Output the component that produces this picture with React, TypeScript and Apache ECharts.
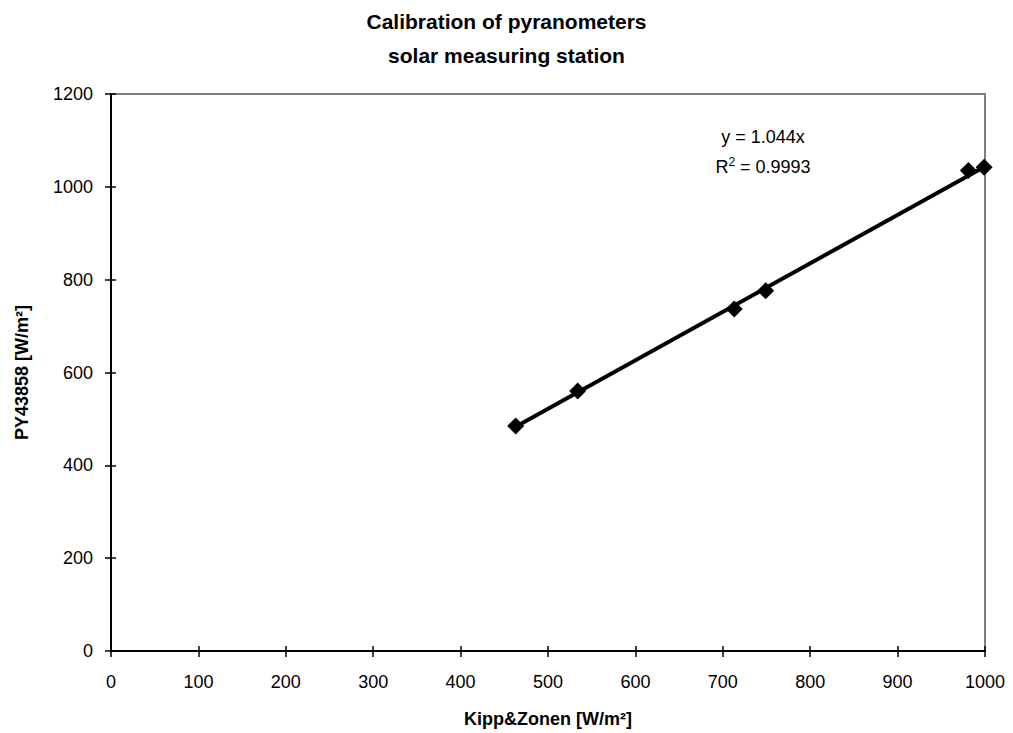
import React, { useEffect, useRef } from "react";
import * as echarts from "echarts";

// Paired readings: reference pyranometer (Kipp&Zonen) vs. PY43858
const kippZonen = [463, 534, 713, 749, 981, 999];
const py43858 = [485, 560, 737, 776, 1035, 1042];

// Linear fit through the origin
const slope = 1.044;
const rSquared = 0.9993;
const trendX = [463, 1000];

const xTicks = { min: 0, max: 1000, interval: 100 };
const yTicks = { min: 0, max: 1200, interval: 200 };

const FONT = "'Liberation Sans', Arial, sans-serif";

export default function App() {
  const ref = useRef<HTMLDivElement>(null);

  useEffect(() => {
    if (!ref.current) return;
    const chart = echarts.init(ref.current, undefined, { renderer: "svg" });

    const points = kippZonen.map((x, i) => [x, py43858[i]]);
    const trend = trendX.map((x) => [x, +(slope * x).toFixed(2)]);

    const plain = (v: number) => String(v);
    const labelStyle = { fontFamily: FONT, fontSize: 18, color: "#000", formatter: plain };
    const nameStyle = { fontFamily: FONT, fontWeight: "bold", fontSize: 18, color: "#000" };

    const axisBase = {
      type: "value" as const,
      splitLine: { show: false },
    };

    chart.setOption({
      animation: false,
      backgroundColor: "#ffffff",
      title: {
        text: "Calibration of pyranometers\nsolar measuring station",
        left: "center",
        top: -1,
        textStyle: {
          fontFamily: FONT,
          fontWeight: "bold",
          fontSize: 21,
          lineHeight: 34,
          color: "#000",
        },
      },
      grid: {
        left: 111,
        right: 28,
        top: 94,
        bottom: 82,
        show: true,
        borderColor: "#808080",
        borderWidth: 2,
      },
      xAxis: [
        {
          ...axisBase,
          ...xTicks,
          name: "Kipp&Zonen [W/m²]",
          nameLocation: "middle",
          nameGap: 59,
          nameTextStyle: nameStyle,
          axisLine: { show: true, lineStyle: { color: "#000", width: 2 } },
          axisTick: { show: true, inside: false, length: 6, lineStyle: { color: "#000", width: 1.5 } },
          axisLabel: { ...labelStyle, margin: 22 },
        },
        {
          ...axisBase,
          ...xTicks,
          position: "bottom",
          axisLine: { show: false },
          axisTick: { show: true, inside: true, length: 5, lineStyle: { color: "#000", width: 1.5 } },
          axisLabel: { show: false },
        },
      ],
      yAxis: [
        {
          ...axisBase,
          ...yTicks,
          name: "PY43858 [W/m²]",
          nameLocation: "middle",
          nameGap: 80,
          nameTextStyle: nameStyle,
          axisLine: { show: true, lineStyle: { color: "#000", width: 2 } },
          axisTick: { show: true, inside: false, length: 6, lineStyle: { color: "#000", width: 1.5 } },
          axisLabel: { ...labelStyle, margin: 18 },
        },
        {
          ...axisBase,
          ...yTicks,
          position: "left",
          axisLine: { show: false },
          axisTick: { show: true, inside: true, length: 5, lineStyle: { color: "#000", width: 1.5 } },
          axisLabel: { show: false },
        },
      ],
      series: [
        {
          type: "line",
          data: trend,
          showSymbol: false,
          symbol: "none",
          lineStyle: { color: "#000", width: 4 },
          z: 2,
        },
        {
          type: "scatter",
          data: points,
          symbol: "diamond",
          symbolSize: [17, 17],
          itemStyle: { color: "#000", opacity: 1 },
          z: 3,
        },
      ],
      graphic: [
        {
          type: "text",
          x: 763,
          y: 137,
          style: {
            text: `y = ${slope.toFixed(3)}x`,
            align: "center",
            verticalAlign: "middle",
            fill: "#000",
            font: `18px ${FONT}`,
          },
        },
        {
          type: "text",
          x: 763,
          y: 167,
          style: {
            text: `{n|R}{s|2}{n| = ${rSquared}}`,
            align: "center",
            verticalAlign: "middle",
            fill: "#000",
            font: `18px ${FONT}`,
            rich: {
              n: { fontFamily: FONT, fontSize: 18, fill: "#000" },
              s: { fontFamily: FONT, fontSize: 12, fill: "#000", padding: [0, 0, 10, 0] },
            },
          },
        },
      ],
    });

    return () => chart.dispose();
  }, []);

  return (
    <div
      ref={ref}
      style={{ position: "fixed", left: 0, top: 0, width: 1013, height: 733 }}
    />
  );
}
